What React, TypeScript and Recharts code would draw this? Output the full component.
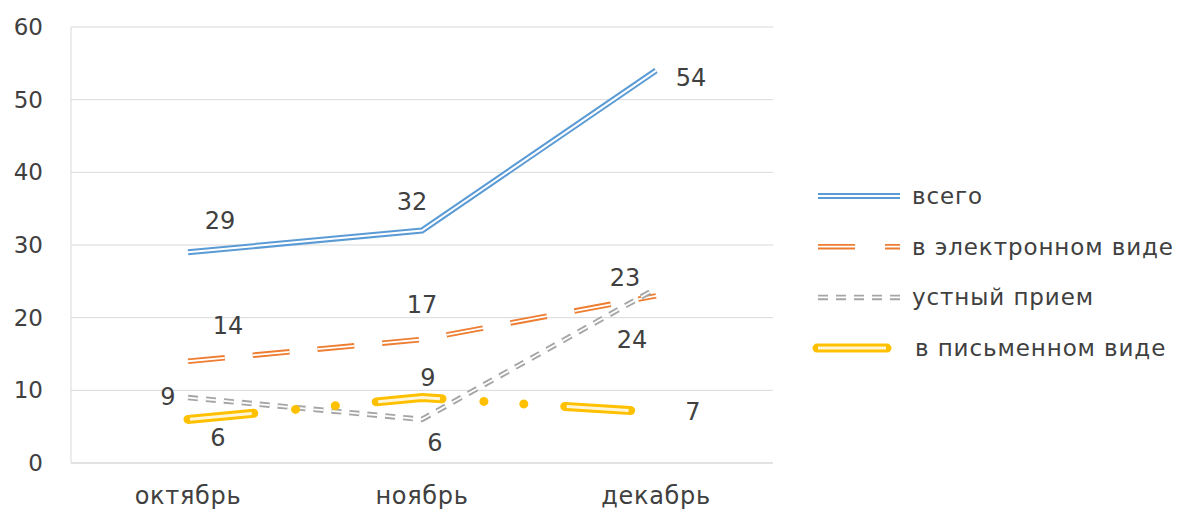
import React from "react";
import { LineChart, Line, XAxis, YAxis, CartesianGrid, Legend, LabelList } from "recharts";

// values
const months = ["октябрь", "ноябрь", "декабрь"];
const total = [29, 32, 54];
const electronic = [14, 17, 23];
const oral = [9, 6, 24];
const written = [6, 9, 7];
const yTicks = [0, 10, 20, 30, 40, 50, 60];

const data = months.map((m, i) => ({
  month: m,
  total: total[i],
  electronic: electronic[i],
  oral: oral[i],
  written: written[i],
}));

const FONT = "'DejaVu Sans', sans-serif";

// double ("compound") lines are drawn as a wide coloured stroke with a thin light stroke on top
const series = [
  {
    key: "total", name: "всего", color: "#5B9BD5", outer: 6, inner: 2, innerColor: "#fff",
    dash: undefined, innerDash: undefined, innerOffset: 0, cap: "butt",
    labels: [[32, -31], [-10, -28], [35, 7]],
  },
  {
    key: "electronic", name: "в электронном виде", color: "#ED7D31", outer: 5.5, inner: 1.8, innerColor: "#fff",
    dash: "37 28", innerDash: "37 28", innerOffset: 0, cap: "butt",
    labels: [[40, -35], [0, -34], [-31, -18]],
  },
  {
    key: "oral", name: "устный прием", color: "#A5A5A5", outer: 5.5, inner: 1.8, innerColor: "#fff",
    dash: "10 8", innerDash: "10 8", innerOffset: 0, cap: "butt",
    labels: [[-20, -1], [13, 24], [-24, 51]],
  },
  {
    key: "written", name: "в письменном виде", color: "#FFC000", outer: 9, inner: 3, innerColor: "#FFF6DA",
    dash: "66 42 0.01 40 0.01 41", innerDash: "62 127", innerOffset: -2, cap: "round",
    labels: [[30, 19], [6, -20], [37, 0]],
  },
];

const makeLabel = (offsets: number[][]) => (props: any) => {
  const vb = props.viewBox || {};
  const x = props.x ?? vb.x;
  const y = props.y ?? vb.y;
  const [dx, dy] = offsets[props.index] || [0, 0];
  return (
    <text x={x + dx} y={y + dy} textAnchor="middle" dominantBaseline="central"
      fill="#404040" fontSize={24} fontFamily={FONT}>
      {props.value}
    </text>
  );
};

const sample = (s: any, y: number) => {
  if (s.key === "total")
    return (
      <g>
        <line x1={13} x2={95} y1={y} y2={y} stroke={s.color} strokeWidth={s.outer} />
        <line x1={13} x2={95} y1={y} y2={y} stroke="#fff" strokeWidth={s.inner} />
      </g>
    );
  if (s.key === "electronic")
    return (
      <g>
        <line x1={13} x2={95} y1={y} y2={y} stroke={s.color} strokeWidth={s.outer} strokeDasharray="37 30" />
        <line x1={13} x2={95} y1={y} y2={y} stroke="#fff" strokeWidth={s.inner} strokeDasharray="37 30" />
      </g>
    );
  if (s.key === "oral")
    return (
      <g>
        <line x1={13} x2={97} y1={y} y2={y} stroke={s.color} strokeWidth={s.outer} strokeDasharray="10 8" />
        <line x1={13} x2={97} y1={y} y2={y} stroke="#fff" strokeWidth={s.inner} strokeDasharray="10 8" />
      </g>
    );
  return (
    <g>
      <line x1={12} x2={82} y1={y} y2={y} stroke={s.color} strokeWidth={s.outer} strokeLinecap="round" />
      <line x1={13} x2={81} y1={y} y2={y} stroke={s.innerColor} strokeWidth={s.inner} />
    </g>
  );
};

const renderLegend = () => (
  <svg width={377} height={200}>
    {series.map((s, i) => {
      const y = 26 + i * 50.7;
      return (
        <g key={s.key}>
          {sample(s, y)}
          <text x={s.key === "written" ? 110 : 107} y={y} dominantBaseline="central"
            fill="#404040" fontSize={23} letterSpacing={0.9} fontFamily={FONT}>
            {s.name}
          </text>
        </g>
      );
    })}
  </svg>
);

export default function App() {
  return (
    <div style={{ position: "absolute", left: 0, top: 0, background: "#fff" }}>
      <LineChart width={1182} height={509} data={data}
        margin={{ top: 27, right: 32, left: 11, bottom: 16 }}>
        <CartesianGrid vertical={false} stroke="#D9D9D9" />
        <XAxis dataKey="month" axisLine={{ stroke: "#D9D9D9" }} tickLine={false} tickMargin={18}
          padding={{ left: 117, right: 117 }}
          tick={{ fill: "#404040", fontSize: 24, letterSpacing: 0.7, fontFamily: FONT }} />
        <YAxis domain={[0, 60]} ticks={yTicks} width={60} axisLine={{ stroke: "#D9D9D9" }}
          tickLine={false} tickMargin={22}
          tick={{ fill: "#404040", fontSize: 23, fontFamily: FONT }} />
        <Legend layout="vertical" align="right" verticalAlign="middle"
          wrapperStyle={{ left: 805, top: 170, width: 377 }} content={renderLegend} />
        {series.flatMap((s) => [
          <Line key={s.key + "-outer"} dataKey={s.key} name={s.name} stroke={s.color}
            strokeWidth={s.outer} strokeDasharray={s.dash} strokeLinecap={s.cap as any}
            dot={false} activeDot={false} isAnimationActive={false} legendType="none" />,
          <Line key={s.key + "-inner"} dataKey={s.key} name={s.name + " "} stroke={s.innerColor}
            strokeWidth={s.inner} strokeDasharray={s.innerDash} strokeDashoffset={s.innerOffset}
            dot={false} activeDot={false} isAnimationActive={false} legendType="none">
            <LabelList dataKey={s.key} content={makeLabel(s.labels)} />
          </Line>,
        ])}
      </LineChart>
    </div>
  );
}
